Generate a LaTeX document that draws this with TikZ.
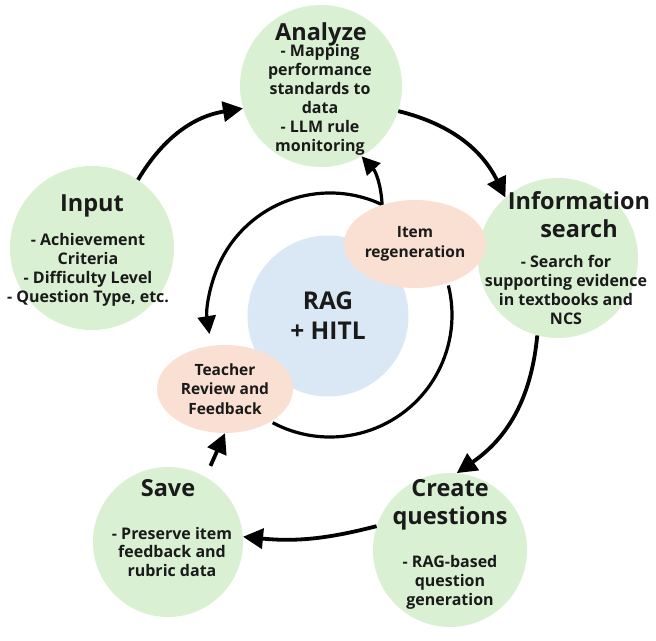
\documentclass[tikz,border=0pt]{standalone}
\usepackage{fontspec}
\setmainfont{Open Sans}
\usepackage{xcolor}
\usepackage{tikz}
\usetikzlibrary{shapes,arrows.meta}
\definecolor{stagegreen}{RGB}{217,240,211}
\definecolor{hubblue}{RGB}{218,232,245}
\definecolor{looppeach}{RGB}{249,224,210}
\definecolor{inktext}{RGB}{26,26,26}

\begin{document}
\begin{tikzpicture}[x=1pt, y=1pt,
    stage/.style={circle, fill=stagegreen, inner sep=0pt},
    loopnode/.style={ellipse, fill=looppeach, inner sep=0pt, minimum width=136pt, minimum height=88pt, align=center, text=inktext, font=\bfseries\fontsize{15.5}{19.5}\selectfont},
    stagehead/.style={align=center, text=inktext, font=\bfseries\fontsize{23.5}{28}\selectfont},
    stagebody/.style={align=center, text=inktext, font=\bfseries\fontsize{16}{19}\selectfont},
    flow/.style={line width=3.8pt, -{Triangle[length=20pt,width=20pt]}}]
    \useasboundingbox (0,0) rectangle (656,640);

    % Stages
    \node[stage, minimum size=162pt] (analyze) at (321,554) {};
    \node[stage, minimum size=164pt] (input) at (92,392) {};
    \node[stage, minimum size=160pt] (info) at (558,382) {};
    \node[stage, minimum size=154pt] (create) at (450,90) {};
    \node[stage, minimum size=150pt] (save) at (168,98) {};

    % Stage texts
    \node[stagehead] (analyzehead) at (321,606) {Analyze};
    \node[stagebody] (analyzebody) at (320,540) {- Mapping\\performance\\standards to\\data\\- LLM rule\\monitoring};
    \node[stagehead] (inputhead) at (92,434) {Input};
    \node[stagebody] (inputbody) at (88,370) {- Achievement\\Criteria\\- Difficulty Level\\- Question Type, etc.};
    \node[stagehead] (infohead) at (579,425) {Information\\search};
    \node[stagebody] (infobody) at (566,350) {- Search for\\supporting evidence\\in textbooks and\\NCS};
    \node[stagehead] (createhead) at (450,135) {Create\\questions};
    \node[stagebody] (createbody) at (450,58) {- RAG-based\\question\\generation};
    \node[stagehead] (savehead) at (168,152) {Save};
    \node[stagebody] (savebody) at (172,88) {- Preserve item\\feedback and\\rubric data};

    % Review loop
    \coordinate (ring) at (330,325);
    \draw[line width=3.2pt] ([shift={(242:122pt)}]ring) arc[start angle=242, end angle=374, radius=122pt];
    \draw[line width=3.2pt, -{Triangle[length=18pt,width=18pt]}] ([shift={(65:122pt)}]ring) arc[start angle=65, end angle=189, radius=122pt];
    \node[circle, fill=hubblue, minimum size=161pt, align=center, text=inktext, font=\bfseries\fontsize{24.5}{30}\selectfont] (hub) at (328,324) {RAG\\+ HITL};
    \node[loopnode] (regen) at (415,396) {Item\\regeneration};
    \node[loopnode] (teacher) at (225,251) {Teacher\\Review and\\Feedback};

    % Flow
    \draw[flow] (input.56) to[bend left=25] (analyze.196);
    \draw[flow] (analyze.342) to[bend left=25] (info.131);
    \draw[flow] (info.255) to[bend left=25] (create.85);
    \draw[flow] (create.162) to[bend left=10] (save.4);
    \draw[flow, shorten <=12pt] (save.60) -- (teacher.south);
    \draw[flow, line width=3.2pt, -{Triangle[length=18pt,width=18pt]}] (regen.130) to[bend right=20] (analyze.300);
\end{tikzpicture}
\end{document}
